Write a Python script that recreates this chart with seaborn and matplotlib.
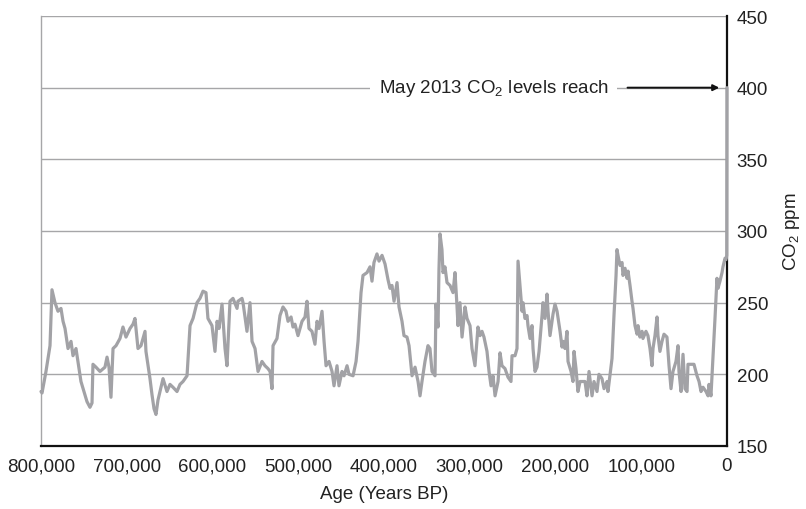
import numpy as np
import pandas as pd
import matplotlib
matplotlib.use('Agg')
import matplotlib.pyplot as plt
import seaborn as sns

# ── Data: age (kyr BP) and CO2 (ppm) ────
age_kyr = [
    800.0, 798.8, 794.2, 789.5, 787.2, 783.7, 780.2, 776.7, 774.3, 772.0,
    768.5, 765.0, 762.7, 759.2, 756.9, 753.4, 749.9, 746.4, 742.9, 740.5,
    739.4, 735.9, 731.2, 725.4, 723.0, 720.7, 718.4, 716.0, 712.5, 707.9,
    704.4, 700.9, 696.2, 692.7, 690.4, 686.9, 683.4, 678.7, 677.6, 672.9,
    670.6, 668.2, 665.9, 663.6, 661.2, 657.7, 653.1, 649.6, 646.1, 641.4,
    637.9, 634.4, 629.7, 626.2, 622.7, 618.1, 614.6, 611.1, 607.6, 605.3,
    600.6, 597.1, 594.7, 592.4, 588.9, 585.4, 583.1, 579.6, 576.1, 571.4,
    570.3, 565.6, 564.4, 559.8, 556.3, 553.9, 550.4, 546.9, 542.3, 538.8,
    535.3, 532.9, 530.6, 529.4, 524.8, 521.3, 517.8, 514.3, 511.9, 508.4,
    506.1, 503.8, 500.3, 495.6, 492.1, 489.8, 487.5, 484.0, 480.5, 478.1,
    475.8, 472.3, 469.9, 467.6, 464.1, 460.6, 458.3, 454.8, 452.5, 449.0,
    446.6, 443.1, 440.8, 436.1, 432.6, 430.3, 426.8, 424.5, 419.8, 416.3,
    414.0, 411.7, 408.2, 405.8, 402.3, 398.8, 395.3, 393.0, 390.7, 388.3,
    384.8, 382.5, 379.0, 376.7, 373.2, 370.8, 367.3, 363.8, 360.3, 358.0,
    355.7, 352.2, 348.7, 346.4, 344.0, 340.5, 339.4, 337.0, 335.9, 334.7,
    332.4, 331.2, 328.9, 326.5, 323.0, 319.5, 317.2, 314.9, 313.7, 311.4,
    309.0, 305.5, 303.2, 299.7, 297.4, 293.9, 290.4, 288.0, 285.7, 283.4,
    279.9, 277.5, 275.2, 272.9, 270.5, 267.0, 264.7, 262.4, 258.9, 255.4,
    251.9, 250.7, 247.2, 244.9, 243.7, 241.4, 239.0, 237.9, 235.6, 233.2,
    232.1, 229.7, 227.4, 226.2, 223.9, 221.6, 219.2, 215.7, 214.6, 212.2,
    209.9, 208.7, 206.4, 204.1, 202.9, 200.6, 198.2, 194.7, 192.4, 191.2,
    188.9, 186.6, 185.4, 181.9, 179.6, 178.4, 176.1, 173.8, 171.4, 167.9,
    165.6, 163.3, 160.9, 157.4, 155.1, 151.6, 149.3, 145.8, 143.4, 139.9,
    138.8, 136.4, 134.1, 131.8, 129.4, 128.3, 127.1, 124.8, 122.4, 121.3,
    118.9, 116.6, 115.4, 113.1, 110.8, 109.6, 107.3, 104.9, 103.8, 101.5,
    99.1, 98.0, 94.5, 92.2, 89.8, 87.5, 86.3, 84.0, 81.6, 80.5,
    78.2, 75.8, 73.5, 70.0, 67.6, 65.3, 63.0, 59.5, 57.1, 56.0,
    53.6, 51.3, 49.0, 46.6, 45.5, 40.8, 38.5, 35.0, 32.6, 30.3,
    28.0, 24.5, 22.1, 21.0, 18.7, 16.4, 14.0, 11.7, 10.5, 8.2,
    5.8, 4.7, 2.3, 1.2, 0.3, 0.0,
]
co2_ppm = [
    188, 187, 202, 220, 259, 250, 244, 246, 237, 232,
    218, 223, 213, 218, 209, 195, 188, 181, 177, 180,
    207, 205, 202, 205, 212, 205, 184, 218, 220, 225,
    233, 226, 232, 235, 239, 218, 220, 230, 216, 197,
    186, 176, 172, 182, 188, 197, 188, 193, 191, 188,
    193, 195, 199, 234, 239, 250, 253, 258, 257, 239,
    234, 216, 237, 232, 249, 218, 206, 251, 253, 246,
    251, 253, 250, 230, 250, 223, 218, 202, 209, 206,
    204, 202, 190, 220, 225, 241, 247, 244, 237, 240,
    233, 235, 227, 237, 240, 251, 232, 230, 221, 237,
    232, 244, 223, 206, 209, 202, 192, 206, 192, 202,
    199, 206, 200, 199, 209, 223, 257, 269, 271, 275,
    265, 278, 284, 279, 283, 277, 266, 260, 262, 251,
    264, 247, 237, 227, 226, 220, 199, 205, 195, 185,
    195, 209, 220, 218, 202, 199, 249, 233, 273, 298,
    287, 271, 275, 264, 262, 257, 271, 248, 234, 250,
    226, 247, 239, 234, 218, 206, 233, 227, 230, 226,
    216, 202, 192, 199, 185, 195, 215, 206, 204, 198,
    195, 213, 213, 218, 279, 262, 244, 250, 239, 241,
    234, 225, 234, 218, 202, 205, 216, 241, 250, 239,
    256, 244, 227, 237, 242, 249, 244, 230, 219, 223,
    218, 230, 209, 202, 195, 216, 204, 188, 195, 195,
    195, 185, 202, 185, 195, 188, 200, 197, 190, 195,
    188, 200, 211, 241, 269, 287, 283, 276, 278, 269,
    274, 267, 272, 262, 251, 246, 234, 228, 234, 226,
    230, 225, 230, 227, 218, 206, 218, 227, 240, 227,
    216, 223, 228, 226, 206, 190, 202, 209, 220, 202,
    188, 214, 190, 188, 207, 207, 207, 199, 195, 188,
    191, 188, 185, 193, 185, 211, 239, 267, 260, 265,
    271, 275, 281, 280, 283, 400,
]

x_ticks = [800000, 700000, 600000, 500000, 400000, 300000, 200000, 100000, 0]
x_tick_labels = ['800,000', '700,000', '600,000', '500,000', '400,000',
                 '300,000', '200,000', '100,000', '0']
y_ticks = [150, 200, 250, 300, 350, 400, 450]

df = pd.DataFrame({'age': np.array(age_kyr) * 1000, 'co2': co2_ppm})

# ── Style ─────────────────────────────────────────────────────────────
sns.set_style('white')
plt.rcParams['font.family'] = ['Liberation Sans', 'DejaVu Sans']
plt.rcParams['mathtext.default'] = 'regular'
plt.rcParams['font.size'] = 13.5

grid_col = '#a6a6a8'
line_col = '#a2a2a6'

fig = plt.figure(figsize=(8.06, 5.10), dpi=100)
ax = fig.add_axes([41 / 806, 63 / 510, 686 / 806, 430 / 510])

sns.lineplot(data=df, x='age', y='co2', ax=ax, color=line_col,
             linewidth=2.3, sort=False, estimator=None,
             zorder=5, clip_on=False)

ax.set_xlim(800000, 0)
ax.set_ylim(150, 450)
ax.set_xticks(x_ticks)
ax.set_xticklabels(x_tick_labels)
ax.set_yticks(y_ticks)
ax.yaxis.tick_right()
ax.yaxis.set_label_position('right')
ax.tick_params(axis='both', length=0, labelsize=13.5, colors='#222222')
ax.tick_params(axis='x', pad=8)
ax.tick_params(axis='y', pad=7)

ax.grid(axis='y', color=grid_col, linewidth=1.0)
ax.grid(axis='x', visible=False)

ax.spines['top'].set_visible(False)
ax.spines['left'].set_color(grid_col)
ax.spines['left'].set_linewidth(1.0)
ax.spines['right'].set_color('#111111')
ax.spines['right'].set_linewidth(1.6)
ax.spines['bottom'].set_color('#111111')
ax.spines['bottom'].set_linewidth(1.6)

ax.set_xlabel('Age (Years BP)', fontsize=13.5, labelpad=8, color='#222222')
ax.set_ylabel('CO$_2$ ppm', fontsize=13.5, labelpad=9, color='#222222')

# ── Annotation ────────────────────────────────────────────────────────
ax.text(272000, 400, 'May 2013 CO$_2$ levels reach', ha='center', va='center',
        fontsize=13.5, color='#222222', zorder=6,
        bbox=dict(boxstyle='square,pad=0.45', facecolor='white',
                  edgecolor='none'))
ax.annotate('', xy=(9000, 400), xytext=(116000, 400),
            arrowprops=dict(arrowstyle='-|>', color='#111111', lw=1.4,
                            mutation_scale=9, shrinkA=0, shrinkB=0),
            zorder=6)

plt.savefig('out.png', dpi=100)
plt.close()
